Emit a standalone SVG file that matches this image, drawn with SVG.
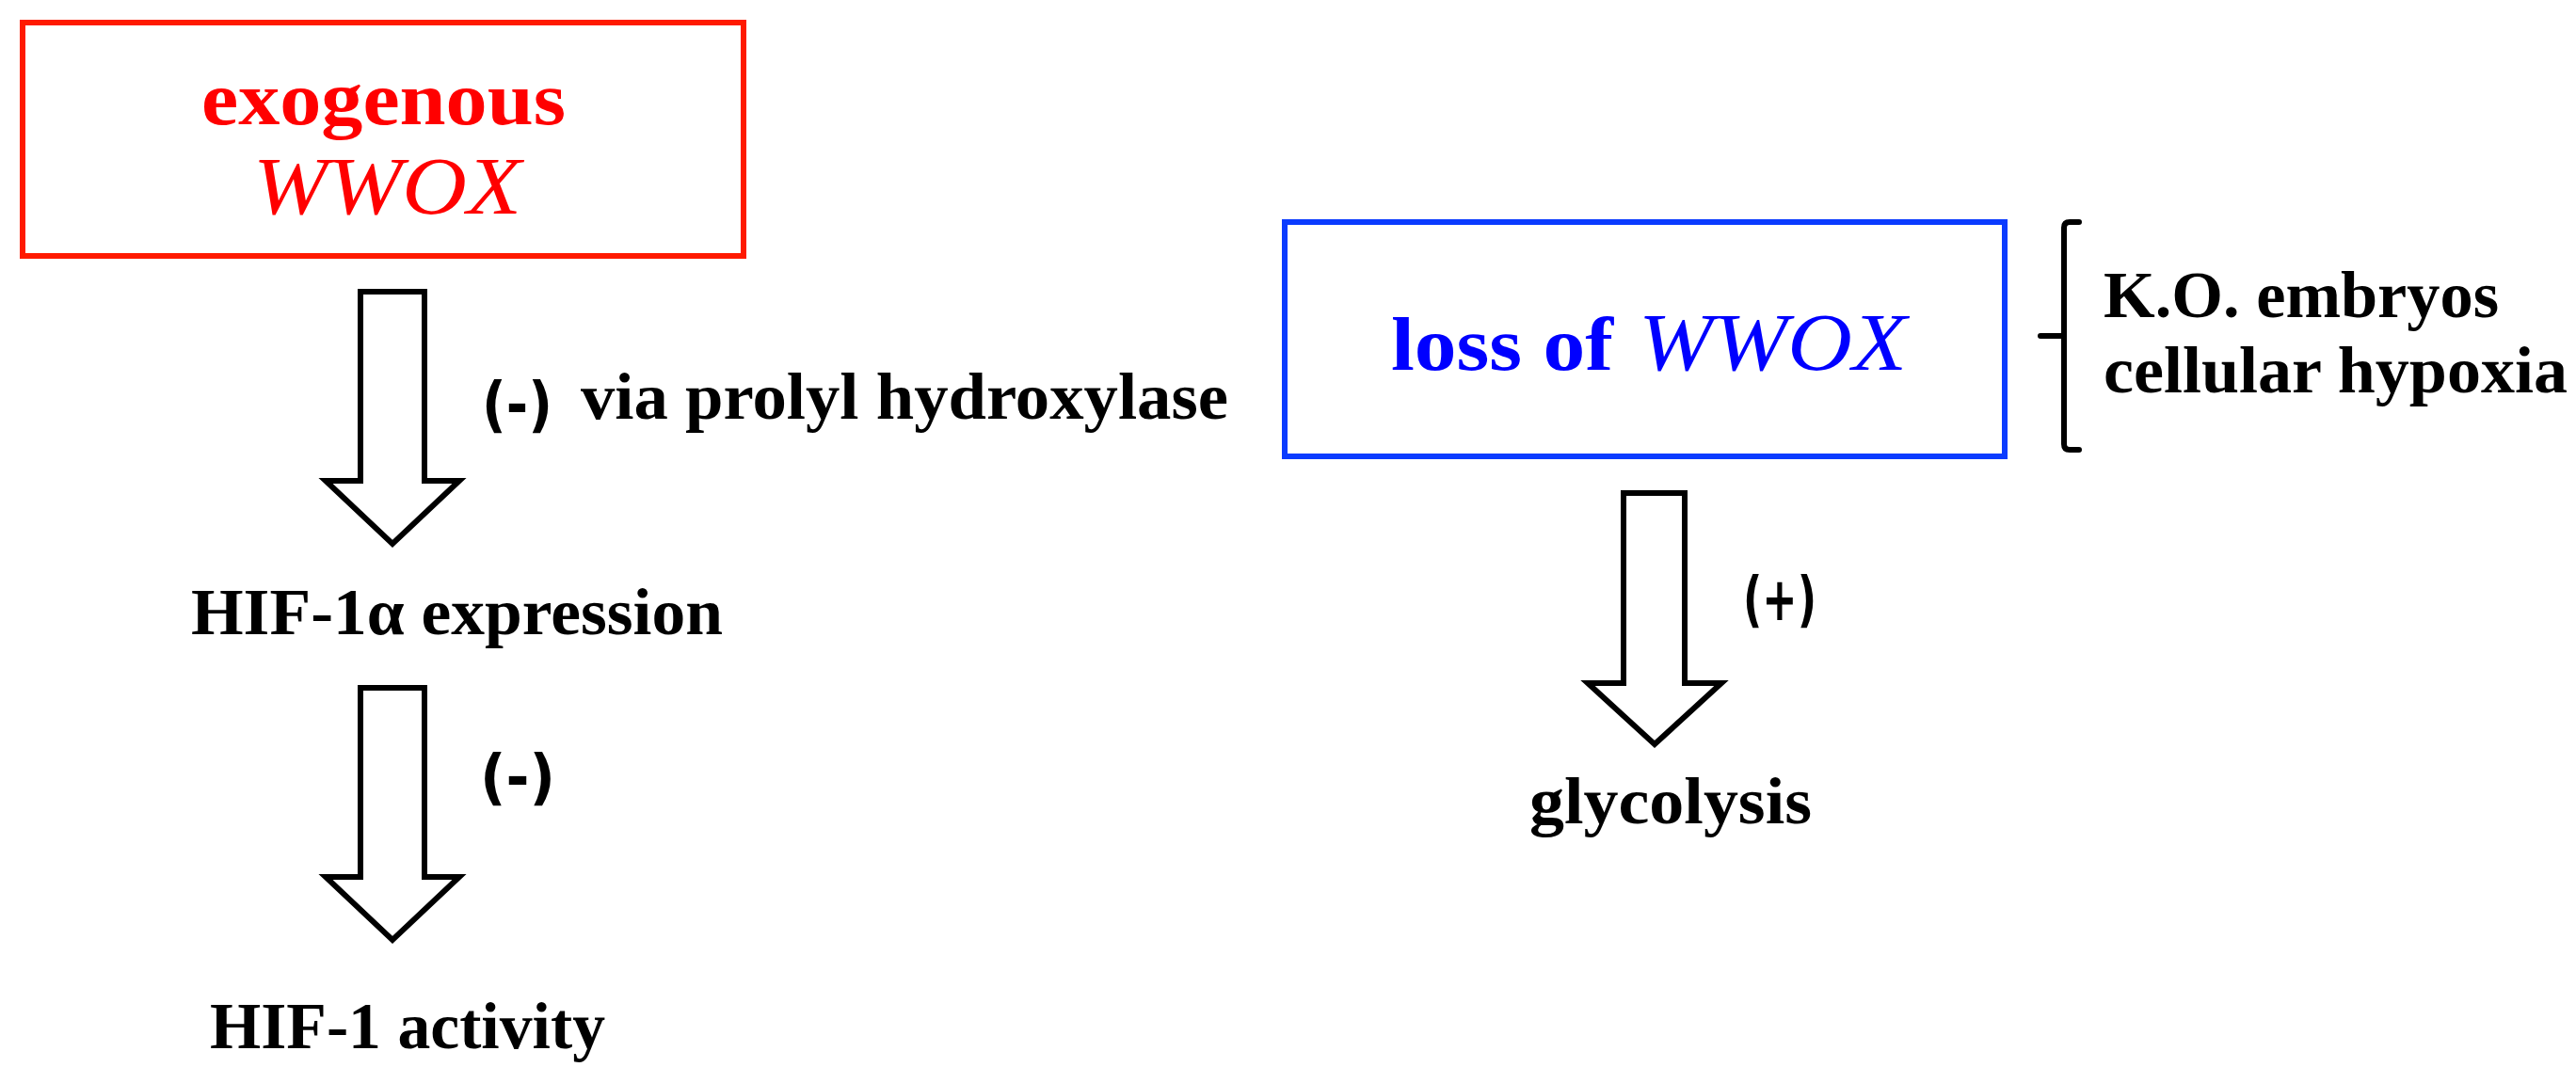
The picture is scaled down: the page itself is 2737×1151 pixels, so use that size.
<svg xmlns="http://www.w3.org/2000/svg" width="2737" height="1151" viewBox="0 0 2737 1151">
<style>
.lbl{font-family:"Liberation Serif","Times New Roman",serif;font-weight:bold;font-size:69px;fill:#000}
.sign{font-family:"DejaVu Sans",sans-serif;font-weight:bold;font-size:64px;fill:#000}
.arrow{fill:#fff;stroke:#000;stroke-width:6;stroke-linejoin:miter}
.bold{font-family:"Liberation Serif","Times New Roman",serif;font-weight:bold;font-size:80px}
.ital{font-family:"Liberation Serif","Times New Roman",serif;font-style:italic;font-size:86px}
</style>
<rect width="2737" height="1151" fill="#fff"/>
<g id="exogenous-wwox">
<rect x="24" y="24" width="766" height="248" fill="#fff" stroke="#FF1A00" stroke-width="6"/>
<text class="bold" x="214" y="132" fill="#FF0000" textLength="387" lengthAdjust="spacingAndGlyphs">exogenous</text>
<text class="ital" x="269" y="227" fill="#FF0000" textLength="285" lengthAdjust="spacingAndGlyphs">WWOX</text>
</g>
<g id="hif1a-expression">
<text class="lbl" x="203" y="674" textLength="565" lengthAdjust="spacingAndGlyphs">HIF-1α expression</text>
</g>
<g id="hif1-activity">
<text class="lbl" x="223" y="1114" textLength="420" lengthAdjust="spacingAndGlyphs">HIF-1 activity</text>
</g>
<g id="loss-of-wwox">
<rect x="1365" y="236" width="765" height="249" fill="#fff" stroke="#0A3BFF" stroke-width="6"/>
<text class="bold" x="1478" y="393" fill="#0000FF" textLength="236" lengthAdjust="spacingAndGlyphs">loss of</text>
<text class="ital" x="1741" y="393" fill="#0000FF" textLength="285" lengthAdjust="spacingAndGlyphs">WWOX</text>
</g>
<g id="ko-annotation">
<path d="M2209,236 H2199 Q2193,236 2193,242 V472 Q2193,478 2199,478 H2209 M2168,357 H2193" fill="none" stroke="#000" stroke-width="6" stroke-linecap="round"/>
<text class="lbl" x="2235" y="337" textLength="420" lengthAdjust="spacingAndGlyphs">K.O. embryos</text>
<text class="lbl" x="2235" y="417" textLength="493" lengthAdjust="spacingAndGlyphs">cellular hypoxia</text>
</g>
<g id="glycolysis">
<text class="lbl" x="1625" y="875" textLength="300" lengthAdjust="spacingAndGlyphs">glycolysis</text>
</g>
<g id="connectors">
<polygon class="arrow" points="383,310 451,310 451,511 488,511 417,578 346,511 383,511"/>
<text class="sign" x="512" y="452" textLength="75" lengthAdjust="spacingAndGlyphs">(-)</text>
<text class="lbl" x="617" y="445" textLength="688" lengthAdjust="spacingAndGlyphs">via prolyl hydroxylase</text>
<polygon class="arrow" points="383,731 451,731 451,932 488,932 417,999 346,932 383,932"/>
<text class="sign" x="510" y="848" textLength="80" lengthAdjust="spacingAndGlyphs">(-)</text>
<polygon class="arrow" points="1725,524 1790,524 1790,726 1829,726 1758,791 1687,726 1725,726"/>
<text class="sign" x="1852" y="659" textLength="78" lengthAdjust="spacingAndGlyphs">(+)</text>
</g>
</svg>
